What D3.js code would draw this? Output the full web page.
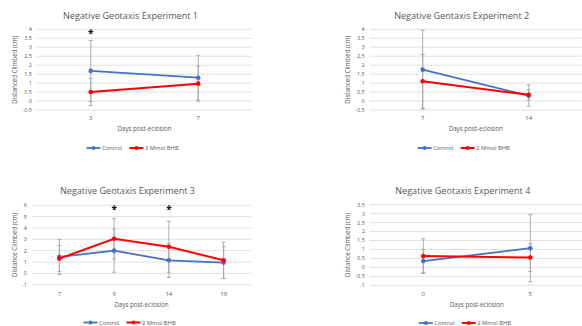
<!DOCTYPE html>
<html>
<head>
<meta charset="utf-8">
<script src="https://cdn.jsdelivr.net/npm/d3@7"></script>
<style>
  body { margin: 0; background: #fff; }
  svg { display: block; font-family: "Open Sans", "Liberation Sans", sans-serif; }
</style>
</head>
<body>
<svg id="chart" width="582" height="326"></svg>
<script>
'use strict';

// experiment 1
var days1 = ['3', '7'];
var control1 = [1.68, 1.30];
var controlErr1 = [1.70, 1.25];
var bhb1 = [0.50, 0.97];
var bhbErr1 = [0.75, 0.98];
var sig1 = ['3'];
var yTicks1 = [-0.5, 0, 0.5, 1, 1.5, 2, 2.5, 3, 3.5, 4];

// experiment 2
var days2 = ['7', '14'];
var control2 = [1.75, 0.30];
var controlErr2 = [2.20, 0.60];
var bhb2 = [1.10, 0.35];
var bhbErr2 = [1.50, 0.30];
var sig2 = [];
var yTicks2 = [-0.5, 0, 0.5, 1, 1.5, 2, 2.5, 3, 3.5, 4];

// experiment 3
var days3 = ['7', '9', '14', '19'];
var control3 = [1.45, 2.00, 1.15, 0.95];
var controlErr3 = [1.55, 1.90, 1.50, 1.40];
var bhb3 = [1.30, 3.05, 2.35, 1.15];
var bhbErr3 = [1.15, 1.78, 2.25, 1.60];
var sig3 = ['9', '14'];
var yTicks3 = [-1, 0, 1, 2, 3, 4, 5, 6];

// experiment 4
var days4 = ['0', '5'];
var control4 = [0.35, 1.07];
var controlErr4 = [0.65, 1.87];
var bhb4 = [0.63, 0.55];
var bhbErr4 = [0.97, 0.78];
var sig4 = [];
var yTicks4 = [-1, -0.5, 0, 0.5, 1, 1.5, 2, 2.5, 3, 3.5];

var seriesNames = ['Control', '2 Mmol BHB'];
var yLabels = ['Distanced Climbed (cm)', 'Distanced Climbed (cm)', 'Distance Climbed (cm)', 'Distance Climbed (cm)'];

var blue = '#4472c4', red = '#ff0000', textColor = '#595959', gridColor = '#d9d9d9', errColor = '#a6a6a6';

var svg = d3.select('#chart');

var panels = [
    { title: 'Negative Geotaxis Experiment 1', days: days1, ser: [[control1, controlErr1], [bhb1, bhbErr1]], sig: sig1, ticks: yTicks1, yLabel: yLabels[0],
      left: 37, right: 252, top: 29.3, bottom: 110, titleY: 16, tickY: 118, axisTitleY: 129, legendY: 148, yLabelX: 15 },
    { title: 'Negative Geotaxis Experiment 2', days: days2, ser: [[control2, controlErr2], [bhb2, bhbErr2]], sig: sig2, ticks: yTicks2, yLabel: yLabels[1],
      left: 369.7, right: 581.7, top: 29.3, bottom: 110, titleY: 16, tickY: 118, axisTitleY: 129, legendY: 148, yLabelX: 347.7 },
    { title: 'Negative Geotaxis Experiment 3', days: days3, ser: [[control3, controlErr3], [bhb3, bhbErr3]], sig: sig3, ticks: yTicks3, yLabel: yLabels[2],
      left: 32, right: 251, top: 205.3, bottom: 284.7, titleY: 190.7, tickY: 294, axisTitleY: 304.5, legendY: 322.5, yLabelX: 15 },
    { title: 'Negative Geotaxis Experiment 4', days: days4, ser: [[control4, controlErr4], [bhb4, bhbErr4]], sig: sig4, ticks: yTicks4, yLabel: yLabels[3],
      left: 369.8, right: 583.8, top: 204.7, bottom: 285.3, titleY: 190.7, tickY: 294, axisTitleY: 304.5, legendY: 323, yLabelX: 347.7 }
];

panels.forEach(function (p) {
    var g = svg.append('g');
    var x = d3.scaleBand().domain(p.days).range([p.left, p.right]);
    var y = d3.scaleLinear().domain(d3.extent(p.ticks)).range([p.bottom, p.top]);
    var cx = function (d) { return x(d) + x.bandwidth() / 2; };
    var midX = (p.left + p.right) / 2;

    // gridlines
    g.selectAll('.grid').data(p.ticks).enter().append('line')
        .attr('x1', p.left).attr('x2', p.right)
        .attr('y1', function (d) { return y(d); }).attr('y2', function (d) { return y(d); })
        .attr('stroke', gridColor).attr('stroke-width', 0.8);

    // y tick labels
    g.selectAll('.ytick').data(p.ticks).enter().append('text')
        .attr('x', p.left - 5).attr('y', function (d) { return y(d); })
        .attr('dy', '0.35em').attr('text-anchor', 'end')
        .attr('font-size', 5.5).attr('fill', textColor)
        .text(function (d) { return d; });

    // x tick labels
    g.selectAll('.xtick').data(p.days).enter().append('text')
        .attr('x', cx).attr('y', p.tickY).attr('dy', '0.35em')
        .attr('text-anchor', 'middle').attr('font-size', 6).attr('fill', textColor)
        .text(function (d) { return d; });

    // titles
    g.append('text').attr('x', midX - 14).attr('y', p.titleY).attr('dy', '0.35em')
        .attr('text-anchor', 'middle').attr('font-size', 9.1).attr('fill', textColor)
        .text(p.title);
    g.append('text').attr('x', midX).attr('y', p.axisTitleY).attr('dy', '0.35em')
        .attr('text-anchor', 'middle').attr('font-size', 6.2).attr('fill', textColor)
        .text('Days post-eclosion');
    g.append('text')
        .attr('transform', 'translate(' + p.yLabelX + ',' + (p.top + p.bottom) / 2 + ') rotate(-90)')
        .attr('dy', '0.35em').attr('text-anchor', 'middle')
        .attr('font-size', 6.2).attr('fill', textColor)
        .text(p.yLabel);

    // error bars
    p.ser.forEach(function (s) {
        var rows = p.days.map(function (d, i) { return { day: d, v: s[0][i], e: s[1][i] }; });
        var eb = g.append('g').attr('stroke', errColor).attr('stroke-width', 0.9);
        eb.selectAll('.bar').data(rows).enter().append('line')
            .attr('x1', function (d) { return cx(d.day); }).attr('x2', function (d) { return cx(d.day); })
            .attr('y1', function (d) { return y(d.v - d.e); }).attr('y2', function (d) { return y(d.v + d.e); });
        [-1, 1].forEach(function (sign) {
            eb.selectAll('.cap' + sign).data(rows).enter().append('line')
                .attr('x1', function (d) { return cx(d.day) - 2; }).attr('x2', function (d) { return cx(d.day) + 2; })
                .attr('y1', function (d) { return y(d.v + sign * d.e); }).attr('y2', function (d) { return y(d.v + sign * d.e); });
        });
    });

    // lines + markers
    var colors = [blue, red];
    p.ser.forEach(function (s, k) {
        var rows = p.days.map(function (d, i) { return { day: d, v: s[0][i] }; });
        var line = d3.line().x(function (d) { return cx(d.day); }).y(function (d) { return y(d.v); });
        g.append('path').datum(rows).attr('d', line)
            .attr('fill', 'none').attr('stroke', colors[k]).attr('stroke-width', k === 1 ? 2 : 1.8);
        g.selectAll('.m' + k).data(rows).enter().append('circle')
            .attr('cx', function (d) { return cx(d.day); }).attr('cy', function (d) { return y(d.v); })
            .attr('r', 2.3).attr('fill', colors[k]);
    });

    // significance asterisks, centred on the top gridline
    var yMax = d3.max(p.ticks);
    g.selectAll('.sig').data(p.sig).enter().append('text')
        .attr('x', cx).attr('y', y(yMax) + 8)
        .attr('text-anchor', 'middle').attr('font-size', 10).attr('font-weight', 'bold').attr('fill', '#111')
        .text('*');

    // legend
    var lg = g.append('g').attr('transform', 'translate(' + (midX - 58) + ',' + p.legendY + ')');
    var offsets = [0, 43];
    seriesNames.forEach(function (name, k) {
        var item = lg.append('g').attr('transform', 'translate(' + offsets[k] + ',0)');
        item.append('line').attr('x1', 0).attr('x2', 14).attr('stroke', colors[k]).attr('stroke-width', k === 1 ? 2 : 1.8);
        item.append('circle').attr('cx', 7).attr('r', 2).attr('fill', colors[k]);
        item.append('text').attr('x', 15.5).attr('dy', '0.35em')
            .attr('font-size', 5.8).attr('fill', textColor).text(name);
    });
});
</script>
</body>
</html>
